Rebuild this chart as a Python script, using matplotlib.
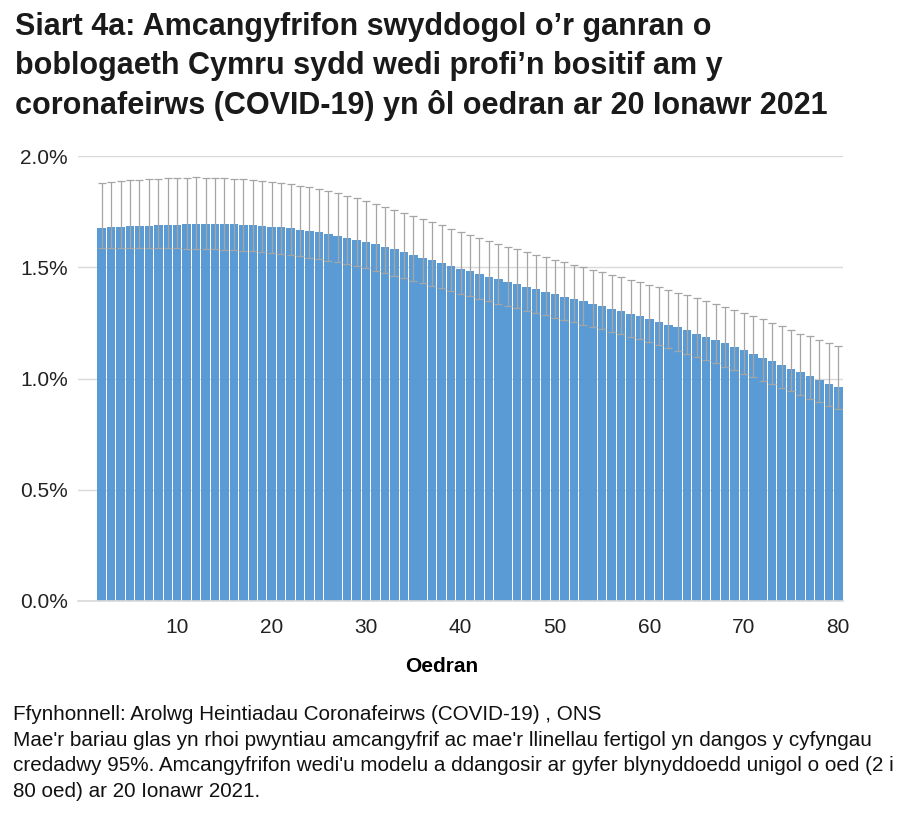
import numpy as np
import matplotlib
matplotlib.use('Agg')
import matplotlib.pyplot as plt
from matplotlib.ticker import FuncFormatter

plt.rcParams['font.family'] = ['Liberation Sans', 'DejaVu Sans']

# Oedran (ages 2 to 80)
ages = list(range(2, 81))

# Amcangyfrif (%) - estimate
estimate = [1.678, 1.681, 1.681, 1.685, 1.685, 1.685, 1.690, 1.690, 1.690, 1.694,
            1.694, 1.694, 1.694, 1.694, 1.694, 1.690, 1.690, 1.685, 1.681, 1.681,
            1.676, 1.667, 1.663, 1.658, 1.649, 1.640, 1.631, 1.622, 1.613, 1.604,
            1.591, 1.582, 1.569, 1.555, 1.542, 1.533, 1.519, 1.506, 1.492, 1.483,
            1.470, 1.456, 1.447, 1.434, 1.425, 1.411, 1.402, 1.389, 1.380, 1.366,
            1.357, 1.348, 1.335, 1.326, 1.312, 1.303, 1.290, 1.281, 1.267, 1.254,
            1.240, 1.231, 1.218, 1.200, 1.187, 1.173, 1.160, 1.142, 1.128, 1.110,
            1.092, 1.079, 1.061, 1.043, 1.029, 1.011, 0.993, 0.975, 0.962]

# 95% credible interval, upper
upper = [1.877, 1.881, 1.886, 1.890, 1.890, 1.895, 1.895, 1.899, 1.899, 1.899,
         1.904, 1.899, 1.899, 1.899, 1.895, 1.895, 1.890, 1.886, 1.881, 1.877,
         1.872, 1.865, 1.859, 1.850, 1.841, 1.832, 1.819, 1.810, 1.796, 1.783,
         1.769, 1.756, 1.742, 1.729, 1.715, 1.702, 1.688, 1.670, 1.657, 1.644,
         1.630, 1.617, 1.603, 1.590, 1.581, 1.567, 1.554, 1.544, 1.531, 1.522,
         1.509, 1.500, 1.486, 1.477, 1.464, 1.455, 1.441, 1.432, 1.419, 1.410,
         1.396, 1.383, 1.374, 1.360, 1.347, 1.333, 1.320, 1.307, 1.293, 1.280,
         1.266, 1.248, 1.235, 1.217, 1.202, 1.190, 1.172, 1.158, 1.145]

# 95% credible interval, lower
lower = [1.585, 1.585, 1.585, 1.585, 1.585, 1.585, 1.585, 1.585, 1.585, 1.581,
         1.581, 1.581, 1.581, 1.576, 1.576, 1.572, 1.572, 1.567, 1.563, 1.558,
         1.554, 1.549, 1.540, 1.536, 1.527, 1.522, 1.513, 1.504, 1.495, 1.482,
         1.473, 1.459, 1.450, 1.437, 1.428, 1.414, 1.405, 1.392, 1.378, 1.369,
         1.356, 1.347, 1.333, 1.324, 1.315, 1.302, 1.293, 1.284, 1.271, 1.262,
         1.253, 1.239, 1.230, 1.221, 1.208, 1.199, 1.185, 1.176, 1.163, 1.149,
         1.136, 1.122, 1.109, 1.095, 1.082, 1.068, 1.050, 1.037, 1.019, 1.005,
         0.987, 0.974, 0.956, 0.943, 0.924, 0.906, 0.893, 0.875, 0.862]

x_ticks = [10, 20, 30, 40, 50, 60, 70, 80]
y_ticks = [0.0, 0.5, 1.0, 1.5, 2.0]

title = ("Siart 4a: Amcangyfrifon swyddogol o\u2019r ganran o\n"
         "boblogaeth Cymru sydd wedi profi\u2019n bositif am y\n"
         "coronafeirws (COVID-19) yn \u00f4l oedran ar 20 Ionawr 2021")
footer = ("Ffynhonnell: Arolwg Heintiadau Coronafeirws (COVID-19) , ONS\n"
          "Mae'r bariau glas yn rhoi pwyntiau amcangyfrif ac mae'r llinellau fertigol yn dangos y cyfyngau\n"
          "credadwy 95%. Amcangyfrifon wedi'u modelu a ddangosir ar gyfer blynyddoedd unigol o oed (2 i\n"
          "80 oed) ar 20 Ionawr 2021.")

est = np.array(estimate)
err = [est - np.array(lower), np.array(upper) - est]

fig = plt.figure(figsize=(9.16, 8.19), dpi=100)
ax = fig.add_axes([0.0852, 0.2662, 0.8351, 0.5433])

ax.bar(ages, est, width=0.9, color='#5B9BD5', edgecolor='none', zorder=2)
ax.errorbar(ages, est, yerr=err, fmt='none', ecolor='#A5A5A5',
            elinewidth=0.9, capsize=3, capthick=0.9, zorder=3)

ax.set_xlim(-0.5, 80.5)
ax.set_ylim(0, 2.0)
ax.set_xticks(x_ticks)
ax.set_yticks(y_ticks)
ax.yaxis.set_major_formatter(FuncFormatter(lambda v, p: f'{v:.1f}%'))
ax.tick_params(length=0, labelsize=15, colors='#222222')
ax.tick_params(axis='x', pad=12)
ax.tick_params(axis='y', pad=7.5)
ax.grid(axis='y', color='#D9D9D9', linewidth=1, zorder=0)
for s in ['top', 'right', 'left']:
    ax.spines[s].set_visible(False)
ax.spines['bottom'].set_color('#D9D9D9')
ax.spines['bottom'].set_linewidth(1.2)

ax.set_xlabel('Oedran', fontsize=15, fontweight='bold')
ax.xaxis.set_label_coords(0.476, -0.125)

fig.text(0.016, 0.985, title, fontsize=22, fontweight='bold', color='#1a1a1a',
         va='top', ha='left', linespacing=1.37)
fig.text(0.014, 0.139, footer, fontsize=14.9, color='#111111',
         va='top', ha='left', linespacing=1.44)

plt.savefig('out.png', dpi=100)
